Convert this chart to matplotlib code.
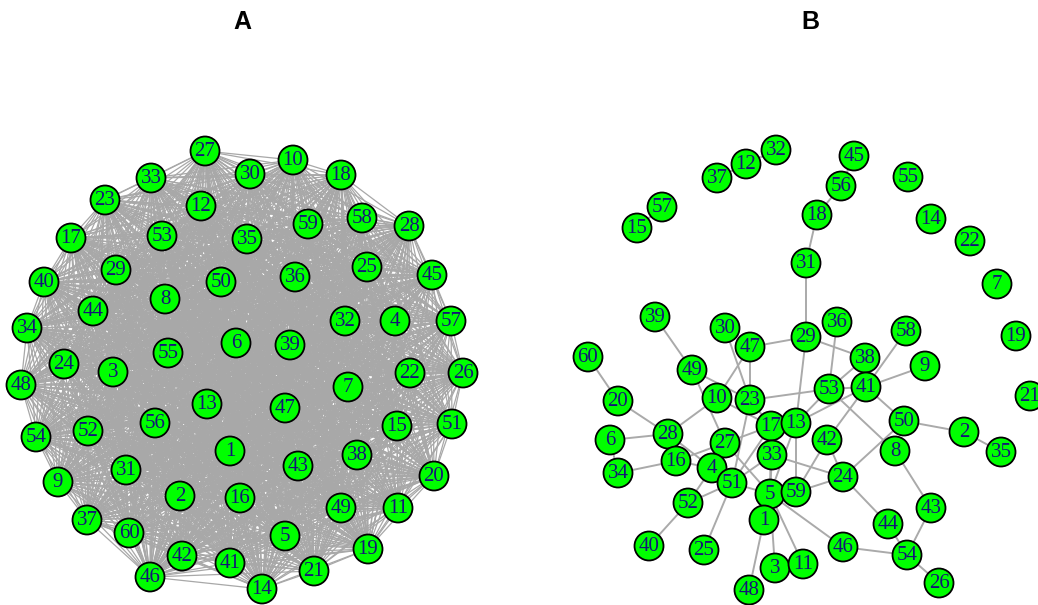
import itertools
import matplotlib
matplotlib.use("Agg")
import matplotlib.pyplot as plt
from matplotlib.collections import LineCollection
from matplotlib.patches import Circle

# Node layout, panel A (fully connected network)
layout_a = {
    27: (205, 151), 10: (293, 160), 30: (250, 174), 18: (341, 175), 33: (151, 178),
    23: (105, 200), 12: (201, 206), 58: (362, 218), 59: (308, 224), 28: (409, 226),
    35: (247, 239), 53: (162, 236), 17: (71, 238), 45: (432, 275), 25: (367, 267),
    36: (295, 277), 50: (221, 282), 29: (116, 270), 40: (44, 282), 8: (165, 299),
    44: (93, 311), 57: (451, 321), 4: (395, 321), 32: (345, 321), 34: (27, 328),
    6: (236, 343), 39: (290, 345), 55: (168, 353), 24: (64, 364), 3: (113, 372),
    48: (21, 385), 26: (463, 373), 22: (410, 373), 7: (348, 387), 47: (285, 408),
    13: (207, 404), 56: (155, 423), 52: (88, 431), 51: (452, 424), 15: (397, 426),
    54: (36, 437), 1: (230, 451), 38: (357, 455), 43: (298, 466), 31: (126, 470),
    20: (434, 476), 9: (58, 482), 2: (180, 496), 16: (240, 498), 49: (341, 508),
    11: (398, 508), 37: (87, 520), 60: (129, 533), 5: (285, 536), 19: (368, 549),
    42: (182, 556), 41: (230, 563), 21: (314, 571), 46: (150, 577), 14: (262, 589),
}
edges_a = list(itertools.combinations(sorted(layout_a), 2))

# Node layout, panel B (sparse network)
layout_b = {
    15: (637, 228), 57: (662, 207), 37: (717, 178), 12: (746, 164), 32: (776, 150),
    45: (854, 156), 56: (841, 186), 18: (817, 215), 31: (806, 263), 55: (908, 177),
    14: (931, 219), 22: (970, 241), 7: (997, 284), 19: (1016, 336), 21: (1030, 396),
    60: (588, 357), 39: (655, 317), 30: (725, 328), 47: (750, 347), 29: (806, 337),
    36: (837, 322), 58: (906, 331), 9: (925, 366), 38: (865, 358), 41: (866, 387),
    53: (829, 389), 49: (692, 370), 10: (717, 398), 23: (750, 400), 20: (618, 401),
    17: (771, 426), 13: (796, 423), 42: (827, 440), 6: (610, 440), 28: (668, 434),
    27: (725, 443), 33: (772, 455), 50: (904, 421), 2: (964, 432), 35: (1001, 452),
    8: (895, 451), 16: (676, 461), 4: (712, 468), 51: (732, 483), 5: (770, 494),
    59: (796, 492), 24: (843, 477), 34: (618, 473), 52: (688, 503), 1: (764, 520),
    44: (888, 524), 43: (931, 508), 40: (649, 546), 25: (704, 550), 3: (775, 568),
    11: (803, 564), 46: (843, 547), 54: (907, 555), 26: (939, 583), 48: (749, 590),
}
edges_b = [
    (15, 57), (37, 12), (12, 32), (45, 56), (56, 18), (18, 31), (31, 29),
    (60, 20), (20, 28), (6, 28), (28, 10), (28, 4), (6, 34), (34, 16),
    (16, 27), (16, 4), (39, 49), (49, 27), (49, 23), (10, 47), (10, 17),
    (30, 23), (47, 23), (47, 29), (29, 38), (29, 13), (36, 53), (53, 23),
    (53, 13), (53, 41), (53, 8), (38, 41), (38, 53), (41, 58), (41, 9),
    (41, 50), (41, 13), (41, 42), (50, 2), (2, 35), (50, 24), (8, 43),
    (43, 54), (44, 54), (24, 44), (46, 54), (54, 26), (5, 46), (42, 24),
    (42, 59), (24, 59), (33, 24), (13, 5), (17, 51), (17, 27), (17, 5),
    (23, 51), (27, 5), (4, 51), (4, 52), (51, 52), (51, 5), (51, 25),
    (52, 40), (1, 5), (1, 48), (5, 3), (5, 11), (33, 51), (33, 5),
    (13, 59), (23, 17),
]

panel_titles = ["A", "B"]
title_x = [242, 810]

W, H = 1038, 605
fig = plt.figure(figsize=(W / 100, H / 100), dpi=100)
ax = fig.add_axes([0, 0, 1, 1])
ax.set_xlim(0, W)
ax.set_ylim(H, 0)
ax.set_aspect("equal")
ax.axis("off")

radius = 14.5
label_font = dict(family="Liberation Serif", fontsize=15, color="#141478",
                  ha="center", va="center")


def draw_network(layout, edges, color, lw, alpha=1.0):
    segs = [[layout[a], layout[b]] for a, b in edges]
    ax.add_collection(LineCollection(segs, colors=color, linewidths=lw,
                                     alpha=alpha, zorder=1))
    for node, (x, y) in layout.items():
        ax.add_patch(Circle((x, y), radius, facecolor="#00ff00",
                            edgecolor="black", linewidth=1.3, zorder=2))
        ax.text(x, y + 0.5, str(node), zorder=3, **label_font)


draw_network(layout_a, edges_a, "#a8a8a8", 0.9)
draw_network(layout_b, edges_b, "#aaaaaa", 1.4)

for t, x in zip(panel_titles, title_x):
    ax.text(x, 22, t, fontsize=18, fontweight="bold", family="Liberation Sans",
            ha="center", va="center")

fig.savefig("out.png", dpi=100)
